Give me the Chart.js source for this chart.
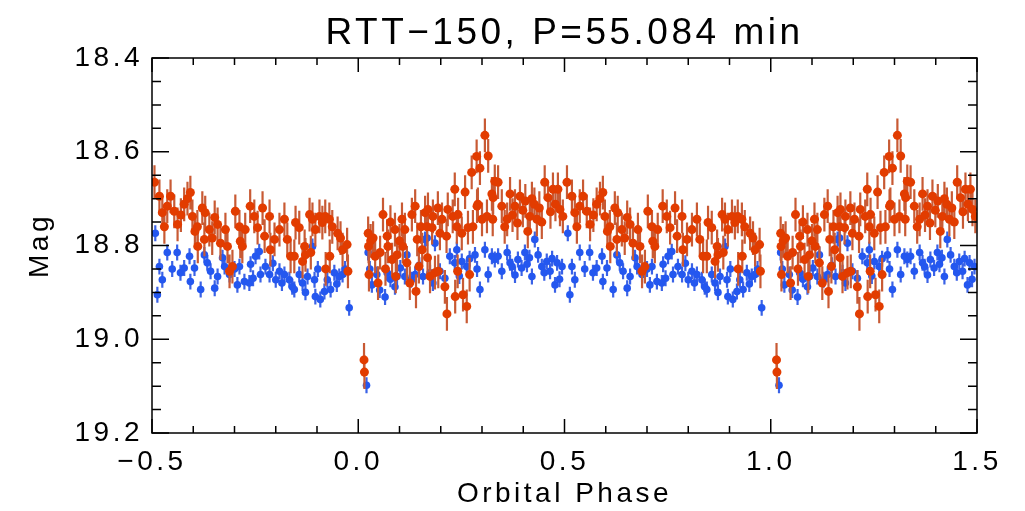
<!DOCTYPE html>
<html>
<head>
<meta charset="utf-8">
<script src="https://cdn.jsdelivr.net/npm/chart.js@4/dist/chart.umd.min.js"></script>
<style>
  html, body { margin: 0; padding: 0; background: #fff; }
  canvas { display: block; }
</style>
</head>
<body>
<canvas id="lc" width="1025" height="511"></canvas>
<script>
// one orbital cycle (phase 0..1); the chart shows it folded over -0.5..1.5
const redPhase = [
  0.014, 0.015, 0.024, 0.025, 0.026, 0.030, 0.036, 0.041, 0.048, 0.053,
  0.060, 0.066, 0.070, 0.072, 0.078, 0.082, 0.089, 0.091, 0.094, 0.100,
  0.106, 0.108, 0.113, 0.118, 0.125, 0.130, 0.138, 0.140, 0.143, 0.147,
  0.152, 0.155, 0.162, 0.167, 0.168, 0.169, 0.174, 0.179, 0.181, 0.186,
  0.193, 0.194, 0.198, 0.203, 0.210, 0.214, 0.215, 0.217, 0.229, 0.234,
  0.235, 0.239, 0.241, 0.242, 0.251, 0.254, 0.259, 0.263, 0.266, 0.270,
  0.275, 0.278, 0.287, 0.288, 0.290, 0.295, 0.300, 0.307, 0.312, 0.315,
  0.324, 0.326, 0.327, 0.331, 0.339, 0.348, 0.355, 0.361, 0.368, 0.374,
  0.380, 0.386, 0.392, 0.399, 0.405, 0.411, 0.416, 0.421, 0.427, 0.433,
  0.439, 0.445, 0.452, 0.460, 0.466, 0.472, 0.478, 0.484, 0.489, 0.496,
  0.506, 0.518, 0.525, 0.530, 0.537, 0.545, 0.554, 0.562, 0.570, 0.578,
  0.586, 0.593, 0.598, 0.604, 0.610, 0.611, 0.622, 0.627, 0.629, 0.639,
  0.646, 0.652, 0.659, 0.666, 0.678, 0.683, 0.688, 0.695, 0.702, 0.712,
  0.714, 0.719, 0.726, 0.738, 0.748, 0.756, 0.768, 0.773, 0.785, 0.787,
  0.797, 0.809, 0.821, 0.828, 0.836, 0.845, 0.848, 0.857, 0.865, 0.870,
  0.872, 0.882, 0.885, 0.889, 0.896, 0.906, 0.913, 0.920, 0.921, 0.930,
  0.931, 0.937, 0.950, 0.957, 0.962, 0.973, 0.975
];
const redMag = [
  19.044, 19.070, 18.774, 18.802, 18.862, 18.790, 18.784, 18.823, 18.880, 18.815,
  18.734, 18.850, 18.780, 18.802, 18.750, 18.830, 18.766, 18.866, 18.820, 18.790,
  18.744, 18.802, 18.766, 18.837, 18.880, 18.734, 18.716, 18.898, 18.787, 18.845,
  18.760, 18.809, 18.730, 18.760, 18.826, 18.723, 18.866, 18.762, 18.738, 18.858,
  18.720, 18.855, 18.774, 18.744, 18.888, 18.780, 18.946, 18.723, 18.738, 18.680,
  18.909, 18.760, 18.855, 18.734, 18.774, 18.905, 18.686, 18.930, 18.762, 18.862,
  18.644, 18.760, 18.610, 18.716, 18.712, 18.635, 18.744, 18.565, 18.738, 18.609,
  18.690, 18.744, 18.698, 18.663, 18.665, 18.716, 18.760, 18.744, 18.690, 18.735,
  18.716, 18.752, 18.695, 18.725, 18.705, 18.770, 18.738, 18.700, 18.712, 18.744,
  18.720, 18.750, 18.665, 18.698, 18.728, 18.680, 18.712, 18.680, 18.723, 18.738,
  18.665, 18.695, 18.730, 18.760, 18.716, 18.695, 18.727, 18.755, 18.735, 18.712,
  18.700, 18.687, 18.738, 18.770, 18.760, 18.802, 18.720, 18.787, 18.730, 18.766,
  18.784, 18.740, 18.755, 18.795, 18.766, 18.802, 18.855, 18.845, 18.727, 18.760,
  18.791, 18.802, 18.766, 18.716, 18.738, 18.762, 18.720, 18.780, 18.738, 18.809,
  18.787, 18.766, 18.744, 18.787, 18.823, 18.823, 18.751, 18.762, 18.834, 18.802,
  18.820, 18.734, 18.815, 18.744, 18.766, 18.738, 18.751, 18.738, 18.850, 18.744,
  18.823, 18.760, 18.774, 18.784, 18.809, 18.798, 18.855
];
const bluePhase = [
  0.020, 0.024, 0.028, 0.033, 0.045, 0.052, 0.065, 0.070, 0.078, 0.089,
  0.094, 0.102, 0.113, 0.118, 0.128, 0.138, 0.148, 0.157, 0.162, 0.167,
  0.174, 0.181, 0.186, 0.198, 0.210, 0.222, 0.234, 0.239, 0.245, 0.251,
  0.263, 0.270, 0.283, 0.288, 0.295, 0.307, 0.315, 0.324, 0.331, 0.339,
  0.348, 0.361, 0.368, 0.373, 0.380, 0.387, 0.396, 0.404, 0.409, 0.415,
  0.421, 0.428, 0.436, 0.445, 0.451, 0.457, 0.465, 0.470, 0.477, 0.482,
  0.488, 0.494, 0.508, 0.513, 0.518, 0.525, 0.537, 0.549, 0.561, 0.569,
  0.578, 0.591, 0.593, 0.603, 0.618, 0.627, 0.634, 0.642, 0.652, 0.659,
  0.671, 0.676, 0.688, 0.700, 0.707, 0.712, 0.724, 0.736, 0.739, 0.745,
  0.751, 0.760, 0.763, 0.775, 0.785, 0.793, 0.800, 0.809, 0.815, 0.821,
  0.833, 0.840, 0.845, 0.857, 0.865, 0.872, 0.877, 0.889, 0.894, 0.896,
  0.902, 0.908, 0.918, 0.925, 0.933, 0.942, 0.948, 0.954, 0.962, 0.968,
  0.978
];
const blueMag = [
  19.098, 18.815, 18.850, 18.884, 18.862, 18.895, 18.910, 18.858, 18.872, 18.888,
  18.866, 18.848, 18.866, 18.820, 18.873, 18.862, 18.842, 18.866, 18.787, 18.784,
  18.858, 18.880, 18.795, 18.855, 18.870, 18.823, 18.837, 18.809, 18.865, 18.834,
  18.845, 18.828, 18.820, 18.850, 18.894, 18.809, 18.862, 18.823, 18.830, 18.823,
  18.855, 18.815, 18.837, 18.845, 18.863, 18.830, 18.848, 18.815, 18.840, 18.826,
  18.866, 18.787, 18.820, 18.845, 18.858, 18.834, 18.855, 18.828, 18.884, 18.837,
  18.872, 18.845, 18.774, 18.905, 18.845, 18.873, 18.815, 18.850, 18.815, 18.858,
  18.848, 18.823, 18.877, 18.848, 18.894, 18.820, 18.837, 18.855, 18.891, 18.866,
  18.826, 18.845, 18.862, 18.850, 18.884, 18.845, 18.877, 18.880, 18.840, 18.870,
  18.823, 18.813, 18.862, 18.845, 18.862, 18.838, 18.873, 18.855, 18.880, 18.862,
  18.873, 18.888, 18.894, 18.862, 18.880, 18.900, 18.866, 18.802, 18.873, 18.909,
  18.850, 18.915, 18.898, 18.873, 18.894, 18.858, 18.882, 18.866, 18.862, 18.850,
  18.933
];
const RED_ERR = 0.036;
const BLUE_ERR = 0.017;

const xTickLabels = [-0.5, 0.0, 0.5, 1.0, 1.5];
const yTickLabels = [18.4, 18.6, 18.8, 19.0, 19.2];

// fold one cycle over the -0.5..1.5 window
function fold(phases, mags, err) {
  const out = [];
  phases.forEach((p, i) => {
    if (p >= 0.5) out.push({ x: p - 1, y: mags[i], e: err });
    out.push({ x: p, y: mags[i], e: err });
    if (p <= 0.5) out.push({ x: p + 1, y: mags[i], e: err });
  });
  return out;
}

const minus = v => (v < 0 ? '\u2212' + Math.abs(v).toFixed(1) : v.toFixed(1));
const FONT = "'Liberation Sans', Arial, sans-serif";

const errorBars = {
  id: 'errorBars',
  beforeDraw(chart) {
    chart.ctx.letterSpacing = '3.5px';
  },
  beforeDatasetDraw(chart, args) {
    const ds = chart.data.datasets[args.index];
    const xs = chart.scales.x, ys = chart.scales.y;
    const ctx = chart.ctx;
    ctx.save();
    ctx.strokeStyle = ds.barColor;
    ctx.lineWidth = 2.2;
    ctx.beginPath();
    ds.data.forEach(d => {
      const px = xs.getPixelForValue(d.x);
      ctx.moveTo(px, ys.getPixelForValue(d.y - d.e));
      ctx.lineTo(px, ys.getPixelForValue(d.y + d.e));
    });
    ctx.stroke();
    ctx.restore();
  },
  afterDraw(chart) {
    const { left, right, top, bottom } = chart.chartArea;
    const xs = chart.scales.x, ys = chart.scales.y;
    const ctx = chart.ctx;
    ctx.save();
    ctx.strokeStyle = '#000';
    ctx.lineWidth = 1.5;
    ctx.strokeRect(left, top, right - left, bottom - top);
    ctx.beginPath();
    for (let k = 0; k <= 20; k++) {
      const px = xs.getPixelForValue(-0.5 + k * 0.1);
      const len = k % 5 === 0 ? 14 : 7;
      ctx.moveTo(px, bottom); ctx.lineTo(px, bottom - len);
      ctx.moveTo(px, top); ctx.lineTo(px, top + len);
    }
    for (let k = 0; k <= 16; k++) {
      const py = ys.getPixelForValue(18.4 + k * 0.05);
      const len = k % 4 === 0 ? 17 : 9;
      ctx.moveTo(left, py); ctx.lineTo(left + len, py);
      ctx.moveTo(right, py); ctx.lineTo(right - len, py);
    }
    ctx.stroke();
    ctx.restore();
  }
};

new Chart(document.getElementById('lc'), {
  type: 'scatter',
  data: {
    datasets: [
      {
        label: 'red',
        data: fold(redPhase, redMag, RED_ERR),
        backgroundColor: '#e23c00',
        barColor: '#c85a34',
        pointRadius: 4.5,
        borderWidth: 0
      },
      {
        label: 'blue',
        data: fold(bluePhase, blueMag, BLUE_ERR),
        backgroundColor: '#2457ef',
        barColor: '#3a62e6',
        pointRadius: 3.8,
        borderWidth: 0
      }
    ]
  },
  options: {
    responsive: false,
    animation: false,
    layout: { padding: { left: 0, right: 48, top: 0, bottom: 0 } },
    plugins: {
      legend: { display: false },
      tooltip: { enabled: false },
      title: {
        display: true,
        fullSize: false,
        text: 'RTT\u2212150, P=55.084 min',
        color: '#000',
        font: { family: FONT, size: 37, weight: 'normal', lineHeight: 1.2 },
        padding: { top: 12, bottom: 1.6 }
      }
    },
    scales: {
      x: {
        type: 'linear',
        min: -0.5,
        max: 1.5,
        afterFit: s => { s.height = 78; },
        afterBuildTicks: s => { s.ticks = xTickLabels.map(v => ({ value: v })); },
        grid: { display: false, drawTicks: false },
        border: { display: false },
        ticks: {
          autoSkip: false,
          maxRotation: 0,
          padding: 12,
          color: '#000',
          font: { family: FONT, size: 28 },
          callback: v => minus(v)
        },
        title: {
          display: true,
          text: 'Orbital Phase',
          color: '#000',
          font: { family: FONT, size: 28, lineHeight: 1.2 },
          padding: { top: 0, bottom: 0 }
        }
      },
      y: {
        type: 'linear',
        reverse: true,
        min: 18.4,
        max: 19.2,
        afterFit: s => { s.width = 152; },
        afterBuildTicks: s => { s.ticks = yTickLabels.map(v => ({ value: v })); },
        grid: { display: false, drawTicks: false },
        border: { display: false },
        ticks: {
          autoSkip: false,
          padding: 9,
          color: '#000',
          font: { family: FONT, size: 28 },
          callback: v => v.toFixed(1)
        },
        title: {
          display: true,
          text: 'Mag',
          color: '#000',
          font: { family: FONT, size: 28, lineHeight: 1.2 },
          padding: { top: 23, bottom: 0 }
        }
      }
    }
  },
  plugins: [errorBars]
});
</script>
</body>
</html>
